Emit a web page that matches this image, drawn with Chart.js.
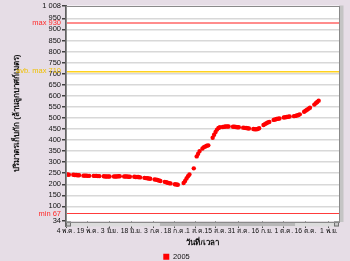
<!DOCTYPE html>
<html><head><meta charset="utf-8">
<script src="https://cdn.jsdelivr.net/npm/chart.js@4/dist/chart.umd.min.js"></script>
<style>html,body{margin:0;padding:0;background:#e6dde6;}canvas{display:block}</style>
</head><body>
<canvas id="c" width="350" height="261"></canvas>
<script>
// day offsets from 4 May 2005
const days = [0,1,2,5,6,7,8,9,12,13,14,15,16,19,20,21,22,23,26,27,28,29,30,33,34,35,36,37,40,41,42,43,44,47,48,49,50,51,54,55,56,57,58,61,62,63,64,65,68,69,70,71,72,75,76,77,81,82,83,84,85,88,90,91,92,94,95,96,97,98,101,102,103,104,105,106,108,109,110,111,112,115,116,117,118,119,122,123,124,125,126,129,130,131,132,133,136,137,138,139,140,143,144,145,146,147,150,151,152,153,154,157,158,159,160,161,164,165,166,167,168,171,172,173,174];
const volume2005 = [244,244,243,243,242,242,241,241,239,239,239,238,238,238,238,238,237,237,236,235,235,235,235,235,235,235,236,236,235,235,235,234,234,234,233,233,233,231,229,228,227,226,225,222,221,219,217,215,211,209,207,205,204,200,199,198,206,215,226,236,244,272,326,338,350,362,368,371,374,376,410,424,436,447,454,458,459,460,461,461,461,460,460,459,458,458,456,455,454,453,452,450,449,449,450,453,468,472,476,479,482,491,493,495,496,497,502,503,504,505,506,508,509,511,513,516,528,532,537,541,546,560,566,572,578];
const seriesLabel = '2005';
const xTickDays = [0,15,30,45,60,75,89,103,119,135,150,165,181];
const xTickLabels = ['4 พ.ค.','19 พ.ค.','3 มิ.ย.','18 มิ.ย.','3 ก.ค.','18 ก.ค.','1 ส.ค.','15 ส.ค.','31 ส.ค.','16 ก.ย.','1 ต.ค.','16 ต.ค.','1 พ.ย.'];
const yTickValues = [34,100,150,200,250,300,350,400,450,500,550,600,650,700,750,800,850,900,950,1008];
const yTickLabels = ['34','100','150','200','250','300','350','400','450','500','550','600','650','700','750','800','850','900','950','1 008'];
const refValues = [930,710,67];
const refLabels = ['max 930','avb. max 710','min 67'];
const refLineColors = ['#ff8c8c','#ffd21e','#ff3c3c'];
const refTextColors = ['#ff2a2a','#f0c000','#ff2a2a'];
const refLineWidths = [2,1.5,1];
const xTitle = 'วันที่/เวลา';
const yTitle = 'ปริมาตรเก็บกัก (ล้านลูกบาศก์เมตร)';

const FONT = 'Tahoma, "Liberation Sans", "DejaVu Sans", sans-serif';
const allY = yTickValues.concat(refValues).sort((a,b)=>a-b);

const frame = {
  id:'frame',
  afterLayout(chart){
    const lg=chart.legend; if(lg){ lg.left+=7; lg.right+=7; }
  },
  beforeDraw(chart){
    const c=chart.ctx, a=chart.chartArea;
    c.save();
    c.fillStyle='#e6dde6'; c.fillRect(0,0,chart.width,chart.height);
    c.fillStyle='#ffffff'; c.fillRect(a.left,a.top,a.right-a.left,a.bottom-a.top);
    c.restore();
  },
  afterDraw(chart){
    const c=chart.ctx, a=chart.chartArea;
    const w=a.right-a.left;
    c.save();
    c.fillStyle='#c4c4c4'; c.fillRect(a.right+0.5,a.top,4,a.bottom-a.top+1);
    c.fillStyle='#dcdcdc'; c.fillRect(a.left,a.bottom+0.5,w,5);
    c.fillStyle='#b8b8b8'; c.fillRect(a.left+w*0.344,a.bottom+1,w*0.495,4);
    c.fillStyle='#c8c8c8';
    c.fillRect(a.left,a.bottom+0.5,5,5); c.fillRect(a.right-5,a.bottom+0.5,5,5);
    c.strokeStyle='#707070'; c.lineWidth=1;
    c.strokeRect(a.left+0.5,a.bottom+1,4,4); c.strokeRect(a.right-4.5,a.bottom+1,4,4);
    c.strokeStyle='#8a8a8a'; c.lineWidth=1;
    c.strokeRect(Math.round(a.left)+0.5,Math.round(a.top)+0.5,Math.round(w),Math.round(a.bottom-a.top));
    c.strokeStyle='#606060';
    c.beginPath(); c.moveTo(Math.round(a.left)-0.5,a.top); c.lineTo(Math.round(a.left)-0.5,a.bottom+6); c.stroke();
    c.restore();
  }
};

new Chart(document.getElementById('c'),{
  type:'scatter',
  data:{datasets:[{
    label:seriesLabel,
    data:days.map((d,i)=>({x:d,y:volume2005[i]})),
    backgroundColor:'#ff0000',
    borderColor:'#ff0000',
    borderWidth:0,
    pointRadius:2.2,
    showLine:false
  }]},
  options:{
    responsive:false,
    animation:false,
    devicePixelRatio:1,
    layout:{padding:{left:0,right:11,top:4.5,bottom:-9.5}},
    plugins:{
      tooltip:{enabled:false},
      legend:{
        position:'bottom',
        labels:{boxWidth:6,boxHeight:6,padding:0,color:'#111',font:{family:FONT,size:7.5}}
      }
    },
    scales:{
      x:{
        type:'linear', min:0, max:188,
        afterBuildTicks(s){ s.ticks = xTickDays.map(v=>({value:v})); },
        afterFit(s){ s.height = 32; },
        ticks:{autoSkip:false,maxRotation:0,padding:0,color:'#111',
          font:{family:FONT,size:6.8,lineHeight:1},
          callback(v){ const i=xTickDays.indexOf(v); return i>=0?xTickLabels[i]:''; }},
        grid:{drawOnChartArea:false,tickLength:7,tickColor:'#505050'},
        border:{display:false},
        title:{display:true,text:xTitle,color:'#111',font:{family:FONT,size:8,weight:'bold'},padding:{top:0,bottom:5.1}}
      },
      y:{
        type:'linear', min:34, max:1008,
        afterBuildTicks(s){ s.ticks = allY.map(v=>({value:v})); },
        afterFit(s){ s.width = 66; },
        ticks:{autoSkip:false,padding:1,
          font:{family:FONT,size:7.5},
          color(ctx){ const i=refValues.indexOf(ctx.tick.value); return i>=0?refTextColors[i]:'#111'; },
          callback(v){ let i=refValues.indexOf(v); if(i>=0) return refLabels[i]; i=yTickValues.indexOf(v); return i>=0?yTickLabels[i]:''; }},
        grid:{
          tickLength:4,
          color(ctx){ const v=ctx.tick&&ctx.tick.value; const i=refValues.indexOf(v); if(i>=0) return refLineColors[i]; if(v===34||v===1008) return 'rgba(0,0,0,0)'; return '#d8d8d8'; },
          lineWidth(ctx){ const v=ctx.tick&&ctx.tick.value; const i=refValues.indexOf(v); return i>=0?refLineWidths[i]:1.5; },
          tickColor(ctx){ const v=ctx.tick&&ctx.tick.value; return refValues.indexOf(v)>=0?'rgba(0,0,0,0)':'#404040'; }
        },
        border:{display:true,color:'#606060',width:1},
        title:{display:true,text:yTitle,color:'#111',font:{family:FONT,size:8,weight:'bold'},padding:{top:11.5,bottom:0}}
      }
    }
  },
  plugins:[frame]
});
</script>
</body></html>
